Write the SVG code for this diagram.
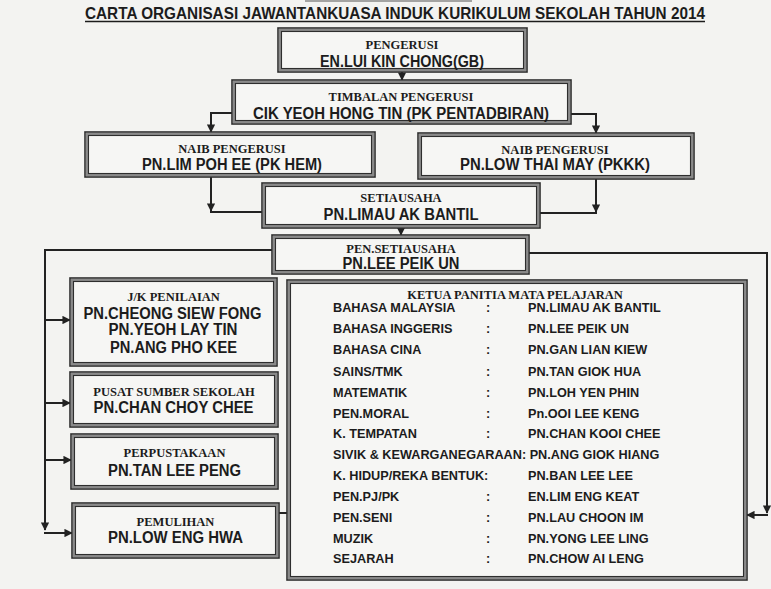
<svg xmlns="http://www.w3.org/2000/svg" width="771" height="589" viewBox="0 0 771 589">
<style>
.bg{fill:#f3f3f1}
.bo{fill:#f6f6f4;stroke:#2e2e2e;stroke-width:1.6}
.bm{fill:none;stroke:#8a8a8a;stroke-width:2}
.bi{fill:none;stroke:#2e2e2e;stroke-width:1.1}
.lb{font-family:"Liberation Serif","Times New Roman",serif;font-weight:bold;font-size:12.5px;fill:#1c1c1c;text-anchor:middle}
.nm{font-family:"Liberation Sans",Arial,sans-serif;font-weight:bold;font-size:16px;fill:#1c1c1c;text-anchor:middle}
.ls{font-family:"Liberation Sans",Arial,sans-serif;font-weight:bold;font-size:12.7px;fill:#1c1c1c}
.ti{font-family:"Liberation Sans",Arial,sans-serif;font-weight:bold;font-size:16.5px;fill:#1c1c1c}
.cn{fill:none;stroke:#222;stroke-width:2}
</style>
<defs>
<marker id="ah" viewBox="0 0 10 10" refX="9" refY="5" markerWidth="4.2" markerHeight="4.2" orient="auto" markerUnits="strokeWidth">
<path d="M0,0 L10,5 L0,10 z" fill="#222"/>
</marker>
</defs>
<rect class="bg" x="0" y="0" width="771" height="589"/>
<line x1="305" y1="1" x2="472" y2="1" stroke="#555" stroke-width="1.2"/>
<g id="title">
<text class="ti" x="85" y="18.5" textLength="620" lengthAdjust="spacingAndGlyphs">CARTA ORGANISASI JAWANTANKUASA INDUK KURIKULUM SEKOLAH TAHUN 2014</text>
<line x1="85" y1="21.5" x2="705" y2="21.5" stroke="#1c1c1c" stroke-width="1.5"/>
</g>

<g id="connectors">
<path class="cn" d="M402,72 V80" marker-end="url(#ah)"/>
<path class="cn" d="M232,113 H211 V132" marker-end="url(#ah)"/>
<path class="cn" d="M571,114 H596 V133" marker-end="url(#ah)"/>
<path class="cn" d="M211,177 V211" marker-end="url(#ah)"/>
<path class="cn" d="M210,212 H262"/>
<path class="cn" d="M596,179 V212" marker-end="url(#ah)"/>
<path class="cn" d="M540,213 H597"/>
<path class="cn" d="M401,228 V235" marker-end="url(#ah)"/>
<path class="cn" d="M272,250 H45 V530" marker-end="url(#ah)"/>
<path class="cn" d="M45,320 H70" marker-end="url(#ah)"/>
<path class="cn" d="M45,403 H70" marker-end="url(#ah)"/>
<path class="cn" d="M45,460 H71" marker-end="url(#ah)"/>
<path class="cn" d="M44,533 H72" marker-end="url(#ah)"/>
<path class="cn" d="M529,253 H767 V513" marker-end="url(#ah)"/>
<path class="cn" d="M768,515 H747" marker-end="url(#ah)"/>
<path class="cn" d="M279,513 H287"/>
</g>

<g id="pengerusi">
<rect class="bo" x="278" y="28" width="249" height="44"/>
<rect class="bm" x="280" y="30" width="245" height="40"/>
<rect class="bi" x="281.5" y="31.5" width="242" height="37"/>
<text class="lb" x="402" y="49">PENGERUSI</text>
<text class="nm" x="402" y="67" textLength="164" lengthAdjust="spacingAndGlyphs">EN.LUI KIN CHONG(GB)</text>
</g>

<g id="timbalan">
<rect class="bo" x="232" y="80" width="339" height="44"/>
<rect class="bm" x="234" y="82" width="335" height="40"/>
<rect class="bi" x="235.5" y="83.5" width="332" height="37"/>
<text class="lb" x="401" y="100.5">TIMBALAN PENGERUSI</text>
<text class="nm" x="401" y="119" textLength="296" lengthAdjust="spacingAndGlyphs">CIK YEOH HONG TIN (PK PENTADBIRAN)</text>
</g>

<g id="naib1">
<rect class="bo" x="85" y="132" width="290" height="45"/>
<rect class="bm" x="87" y="134" width="286" height="41"/>
<rect class="bi" x="88.5" y="135.5" width="283" height="38"/>
<text class="lb" x="232" y="153">NAIB PENGERUSI</text>
<text class="nm" x="232" y="169.5" textLength="180" lengthAdjust="spacingAndGlyphs">PN.LIM POH EE (PK HEM)</text>
</g>

<g id="naib2">
<rect class="bo" x="418" y="133" width="276" height="46"/>
<rect class="bm" x="420" y="135" width="272" height="42"/>
<rect class="bi" x="421.5" y="136.5" width="269" height="39"/>
<text class="lb" x="555" y="153.5">NAIB PENGERUSI</text>
<text class="nm" x="555" y="170" textLength="190" lengthAdjust="spacingAndGlyphs">PN.LOW THAI MAY (PKKK)</text>
</g>

<g id="setiausaha">
<rect class="bo" x="262" y="183" width="278" height="45"/>
<rect class="bm" x="264" y="185" width="274" height="41"/>
<rect class="bi" x="265.5" y="186.5" width="271" height="38"/>
<text class="lb" x="401" y="202">SETIAUSAHA</text>
<text class="nm" x="401" y="219.5" textLength="155" lengthAdjust="spacingAndGlyphs">PN.LIMAU AK BANTIL</text>
</g>

<g id="pensetiausaha">
<rect class="bo" x="272" y="235" width="257" height="39"/>
<rect class="bm" x="274" y="237" width="253" height="35"/>
<rect class="bi" x="275.5" y="238.5" width="250" height="32"/>
<text class="lb" x="401" y="252.5">PEN.SETIAUSAHA</text>
<text class="nm" x="401" y="269" textLength="117" lengthAdjust="spacingAndGlyphs">PN.LEE PEIK UN</text>
</g>

<g id="penilaian">
<rect class="bo" x="70" y="278" width="207" height="88"/>
<rect class="bm" x="72" y="280" width="203" height="84"/>
<rect class="bi" x="73.5" y="281.5" width="200" height="81"/>
<text class="lb" x="173.5" y="301">J/K PENILAIAN</text>
<text class="nm" x="172.5" y="318.5" textLength="178" lengthAdjust="spacingAndGlyphs">PN.CHEONG SIEW FONG</text>
<text class="nm" x="173" y="335" textLength="129" lengthAdjust="spacingAndGlyphs">PN.YEOH LAY TIN</text>
<text class="nm" x="173.5" y="353" textLength="127" lengthAdjust="spacingAndGlyphs">PN.ANG PHO KEE</text>
</g>

<g id="pusatsumber">
<rect class="bo" x="70" y="372" width="208" height="55"/>
<rect class="bm" x="72" y="374" width="204" height="51"/>
<rect class="bi" x="73.5" y="375.5" width="201" height="48"/>
<text class="lb" x="174" y="396">PUSAT SUMBER SEKOLAH</text>
<text class="nm" x="173.5" y="412.5" textLength="160" lengthAdjust="spacingAndGlyphs">PN.CHAN CHOY CHEE</text>
</g>

<g id="perpustakaan">
<rect class="bo" x="71" y="434" width="207" height="55"/>
<rect class="bm" x="73" y="436" width="203" height="51"/>
<rect class="bi" x="74.5" y="437.5" width="200" height="48"/>
<text class="lb" x="174.5" y="457">PERPUSTAKAAN</text>
<text class="nm" x="174.5" y="475.5" textLength="133" lengthAdjust="spacingAndGlyphs">PN.TAN LEE PENG</text>
</g>

<g id="pemulihan">
<rect class="bo" x="72" y="503" width="207" height="55"/>
<rect class="bm" x="74" y="505" width="203" height="51"/>
<rect class="bi" x="75.5" y="506.5" width="200" height="48"/>
<text class="lb" x="175.5" y="526">PEMULIHAN</text>
<text class="nm" x="175.5" y="542.5" textLength="135" lengthAdjust="spacingAndGlyphs">PN.LOW ENG HWA</text>
</g>

<g id="ketuapanitia">
<rect class="bo" x="287" y="280" width="460" height="300"/>
<rect class="bm" x="289" y="282" width="456" height="296"/>
<rect class="bi" x="290.5" y="283.5" width="453" height="293"/>
<text class="lb" x="515" y="299">KETUA PANITIA MATA PELAJARAN</text>
<text class="ls" x="333" y="311.5">BAHASA MALAYSIA</text><text class="ls" x="486" y="311.5">:</text><text class="ls" x="528" y="311.5">PN.LIMAU AK BANTIL</text>
<text class="ls" x="333" y="332.5">BAHASA INGGERIS</text><text class="ls" x="486" y="332.5">:</text><text class="ls" x="528" y="332.5">PN.LEE PEIK UN</text>
<text class="ls" x="333" y="354">BAHASA CINA</text><text class="ls" x="486" y="354">:</text><text class="ls" x="528" y="354">PN.GAN LIAN KIEW</text>
<text class="ls" x="333" y="375.5">SAINS/TMK</text><text class="ls" x="486" y="375.5">:</text><text class="ls" x="528" y="375.5">PN.TAN GIOK HUA</text>
<text class="ls" x="333" y="396.5">MATEMATIK</text><text class="ls" x="486" y="396.5">:</text><text class="ls" x="528" y="396.5">PN.LOH YEN PHIN</text>
<text class="ls" x="333" y="417.5">PEN.MORAL</text><text class="ls" x="486" y="417.5">:</text><text class="ls" x="528" y="417.5">Pn.OOI LEE KENG</text>
<text class="ls" x="333" y="437.5">K. TEMPATAN</text><text class="ls" x="486" y="437.5">:</text><text class="ls" x="528" y="437.5">PN.CHAN KOOI CHEE</text>
<text class="ls" x="333" y="458.5">SIVIK &amp; KEWARGANEGARAAN: PN.ANG GIOK HIANG</text>
<text class="ls" x="333" y="479.5">K. HIDUP/REKA BENTUK:</text><text class="ls" x="528" y="479.5">PN.BAN LEE LEE</text>
<text class="ls" x="333" y="500.5">PEN.PJ/PK</text><text class="ls" x="486" y="500.5">:</text><text class="ls" x="528" y="500.5">EN.LIM ENG KEAT</text>
<text class="ls" x="333" y="521.5">PEN.SENI</text><text class="ls" x="486" y="521.5">:</text><text class="ls" x="528" y="521.5">PN.LAU CHOON IM</text>
<text class="ls" x="333" y="542.5">MUZIK</text><text class="ls" x="486" y="542.5">:</text><text class="ls" x="528" y="542.5">PN.YONG LEE LING</text>
<text class="ls" x="333" y="562.5">SEJARAH</text><text class="ls" x="486" y="562.5">:</text><text class="ls" x="528" y="562.5">PN.CHOW AI LENG</text>
</g>
</svg>
